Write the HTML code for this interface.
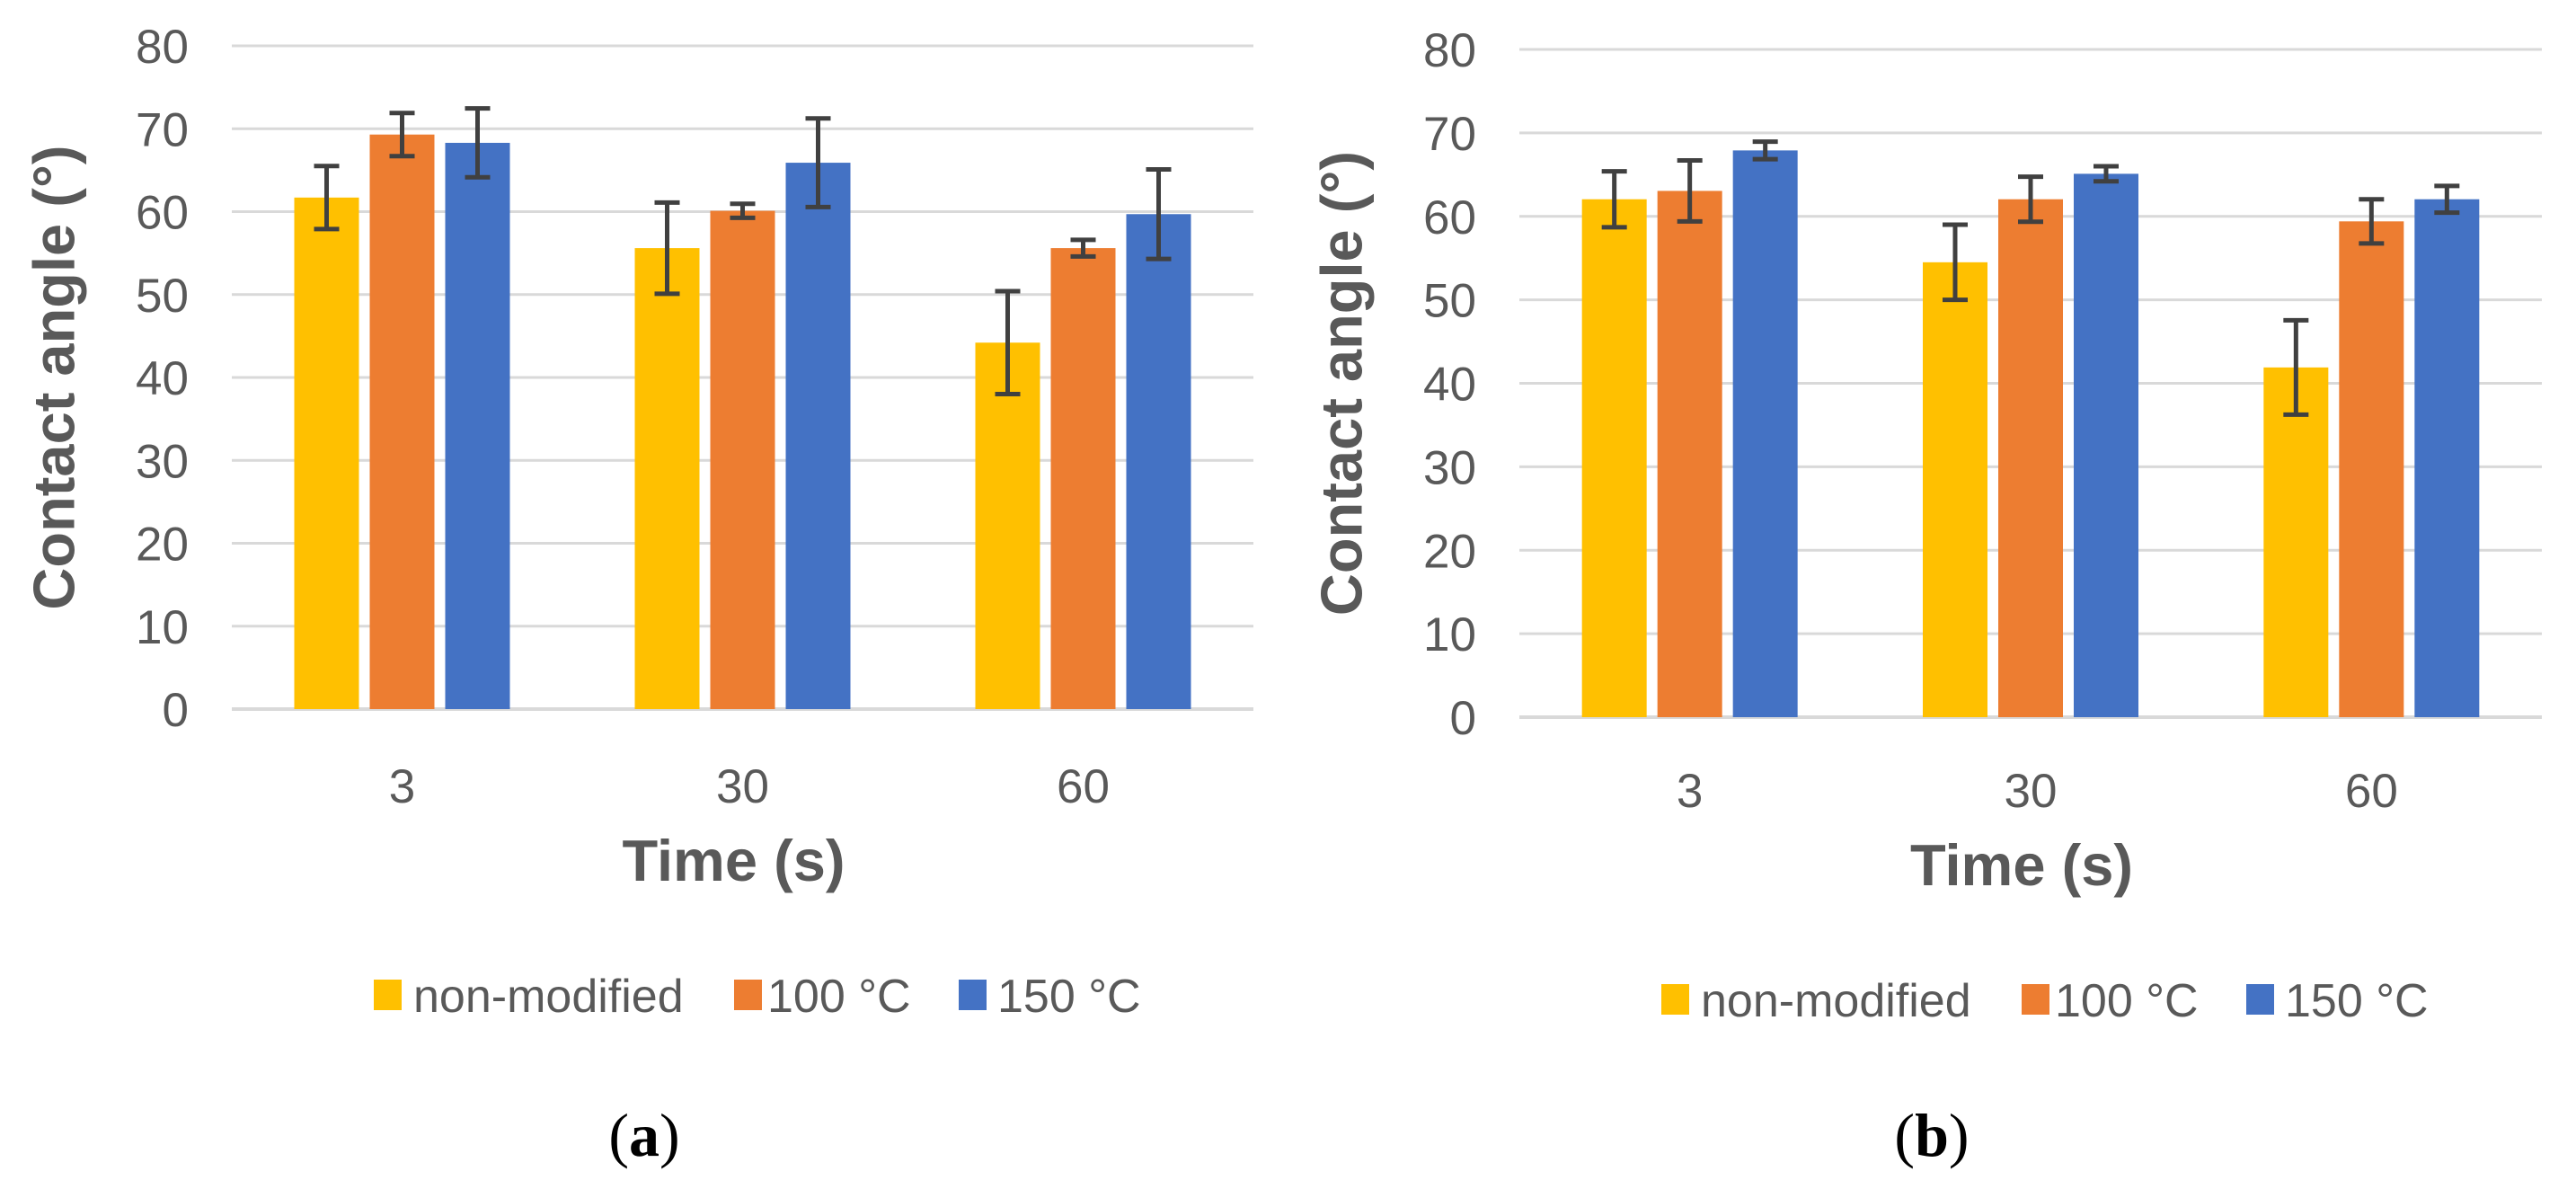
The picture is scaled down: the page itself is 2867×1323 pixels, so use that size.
<!DOCTYPE html>
<html><head><meta charset="utf-8">
<style>
html,body{margin:0;padding:0;background:#fff;}
svg{display:block;}
</style></head>
<body>
<svg id="fig" xmlns="http://www.w3.org/2000/svg" width="2867" height="1323" viewBox="0 0 2867 1323">
<rect width="2867" height="1323" fill="#fff"/>
</svg>
<script>
const categories = ["3", "30", "60"];
const seriesNames = ["non-modified", "100 °C", "150 °C"];
const yTicks = [0, 10, 20, 30, 40, 50, 60, 70, 80];
const aNonModified = [61.7, 55.6, 44.2];
const aNonModifiedErr = [3.8, 5.5, 6.2];
const a100 = [69.3, 60.1, 55.6];
const a100Err = [2.6, 0.85, 1.0];
const a150 = [68.3, 65.9, 59.7];
const a150Err = [4.15, 5.35, 5.4];
const bNonModified = [62.05, 54.5, 41.9];
const bNonModifiedErr = [3.35, 4.5, 5.65];
const b100 = [63.05, 62.05, 59.4];
const b100Err = [3.65, 2.7, 2.65];
const b150 = [67.9, 65.1, 62.05];
const b150Err = [1.05, 0.9, 1.6];

const colors = ["#FFC000", "#ED7D31", "#4472C4"];
const NS = "http://www.w3.org/2000/svg";
const svg = document.getElementById('fig');
function mk(tag, attrs, parent) {
  const e = document.createElementNS(NS, tag);
  for (const k in attrs) e.setAttribute(k, attrs[k]);
  (parent || svg).appendChild(e);
  return e;
}
const FONT = '"Liberation Sans", Arial, sans-serif';

function chart(id, px0, px1, y0, y80, values, errs, labelChar, dy) {
  const g = mk('g', {});
  
  
  const yScale = v => y0 - (y0 - y80) * v / 80;
  const catW = (px1 - px0) / categories.length;
  const xCenter = i => px0 + catW * (i + 0.5);
  // gridlines + ticks
  yTicks.forEach(t => {
    const y = yScale(t);
    const ln = mk('line', {x1: px0, x2: px1, y1: y, y2: y, stroke: '#d9d9d9', 'stroke-width': t === 0 ? 4 : 3}, g);
    
    
    const tx = mk('text', {x: px0 - 48, y: y + 19, 'text-anchor': 'end', 'font-family': FONT, 'font-size': 53, fill: '#595959'}, g);
    tx.textContent = t;
    
    
  });
  // bars
  values.forEach((ser, s) => {
    ser.forEach((v, i) => {
      const cx = xCenter(i) + (s - 1) * 84;
      const r = mk('rect', {x: cx - 36, y: yScale(v), width: 72, height: y0 - yScale(v), fill: colors[s]}, g);
      
      
    });
  });
  // error bars
  values.forEach((ser, s) => {
    ser.forEach((v, i) => {
      const cx = xCenter(i) + (s - 1) * 84;
      const e = errs[s][i];
      const yt = yScale(v + e), yb = yScale(v - e);
      const eg = mk('g', {stroke: '#404040', 'stroke-width': 5}, g);
      
      
      mk('line', {x1: cx, x2: cx, y1: yt, y2: yb}, eg);
      mk('line', {x1: cx - 14, x2: cx + 14, y1: yt, y2: yt}, eg);
      mk('line', {x1: cx - 14, x2: cx + 14, y1: yb, y2: yb}, eg);
    });
  });
  // x labels
  categories.forEach((c, i) => {
    const tx = mk('text', {x: xCenter(i), y: 893 + dy, 'text-anchor': 'middle', 'font-family': FONT, 'font-size': 53, fill: '#595959'}, g);
    tx.textContent = c;
    
    
  });
  const xt = mk('text', {x: (px0 + px1) / 2 - 10, y: 980 + dy, 'text-anchor': 'middle', 'font-family': FONT, 'font-size': 65, 'font-weight': 'bold', fill: '#595959'}, g);
  xt.textContent = 'Time (s)';
  
  
  const ycx = px0 - 198, ycy = (y0 + y80) / 2;
  const yt = mk('text', {x: ycx, y: ycy, 'text-anchor': 'middle', 'dominant-baseline': 'central', transform: 'rotate(-90 ' + ycx + ' ' + ycy + ')', 'font-family': FONT, 'font-size': 65, 'font-weight': 'bold', fill: '#595959'}, g);
  yt.textContent = 'Contact angle (°)';
  
  
  // legend
  const off = px0 - 258;
  const lx = [416, 817, 1067], tx0 = [460, 854, 1110];
  seriesNames.forEach((n, s) => {
    const lg = mk('g', {}, g);
    
    
    mk('rect', {x: lx[s] + off, y: 1090 + dy, width: 31, height: 34, fill: colors[s]}, lg);
    const t = mk('text', {x: tx0[s] + off, y: 1126 + dy, 'font-family': FONT, 'font-size': 52, fill: '#595959'}, lg);
    t.textContent = n;
  });
  const lab = mk('text', {x: 717 + off, y: 1286, 'text-anchor': 'middle', 'font-family': '"Liberation Serif", serif', 'font-size': 68, fill: '#000'}, g);
  lab.innerHTML = '(<tspan font-weight="bold">' + labelChar + '</tspan>)';
  
  
}
chart('a', 258, 1395, 789, 51, [aNonModified, a100, a150], [aNonModifiedErr, a100Err, a150Err], 'a', 0);
chart('b', 1691, 2829, 798, 55, [bNonModified, b100, b150], [bNonModifiedErr, b100Err, b150Err], 'b', 5);
</script>
</body></html>
